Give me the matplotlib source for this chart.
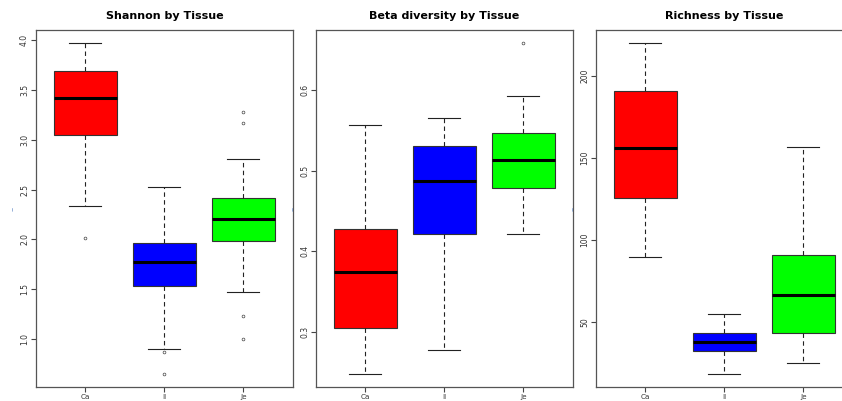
import matplotlib
matplotlib.use("Agg")
import matplotlib.pyplot as plt

tissues = ["Ca", "Il", "Je"]
colors = ["#ff0000", "#0000ff", "#00ff00"]

# whisker low, Q1, median, Q3, whisker high, outliers
shannon_lo = [2.34, 0.90, 1.47]
shannon_q1 = [3.05, 1.53, 1.98]
shannon_med = [3.42, 1.77, 2.20]
shannon_q3 = [3.69, 1.96, 2.42]
shannon_hi = [3.97, 2.53, 2.81]
shannon_out = [[2.01], [0.875, 0.655], [3.28, 3.17, 1.23, 1.00]]

beta_lo = [0.248, 0.278, 0.421]
beta_q1 = [0.305, 0.421, 0.478]
beta_med = [0.375, 0.487, 0.513]
beta_q3 = [0.428, 0.530, 0.547]
beta_hi = [0.556, 0.565, 0.592]
beta_out = [[], [], [0.658]]

rich_lo = [89.6, 18.7, 25.0]
rich_q1 = [125.8, 32.7, 43.7]
rich_med = [156.2, 37.8, 66.3]
rich_q3 = [190.7, 43.7, 91.0]
rich_hi = [219.7, 54.9, 156.6]
rich_out = [[], [], []]

panels = [
    ("Shannon by Tissue", shannon_lo, shannon_q1, shannon_med, shannon_q3, shannon_hi, shannon_out,
     (0.52, 4.10), [1.0, 1.5, 2.0, 2.5, 3.0, 3.5, 4.0], "{:.1f}"),
    ("Beta diversity by Tissue", beta_lo, beta_q1, beta_med, beta_q3, beta_hi, beta_out,
     (0.232, 0.674), [0.3, 0.4, 0.5, 0.6], "{:.1f}"),
    ("Richness by Tissue", rich_lo, rich_q1, rich_med, rich_q3, rich_hi, rich_out,
     (10.6, 227.8), [50, 100, 150, 200], "{:d}"),
]

fig = plt.figure(figsize=(8.42, 4.01), dpi=100)
lefts = [36, 316, 596]
for left, (title, lo, q1, med, q3, hi, out, ylim, yt, fmt) in zip(lefts, panels):
    ax = fig.add_axes([left / 842, 14 / 401, 257 / 842, 357 / 401])
    stats = []
    for i in range(3):
        stats.append(dict(whislo=lo[i], q1=q1[i], med=med[i], q3=q3[i],
                          whishi=hi[i], fliers=out[i], label=tissues[i]))
    bp = ax.bxp(stats, positions=[1, 2, 3], widths=0.8, patch_artist=True,
                boxprops=dict(edgecolor="#333333", linewidth=0.8),
                medianprops=dict(color="black", linewidth=2.2),
                whiskerprops=dict(color="#222222", linewidth=0.8, linestyle=(0, (4, 3))),
                capprops=dict(color="#222222", linewidth=0.8),
                flierprops=dict(marker="o", markersize=2, markerfacecolor="none",
                                markeredgecolor="#444444", markeredgewidth=0.5))
    for cap in bp["caps"]:
        x = cap.get_xdata()
        c = (x[0] + x[1]) / 2
        cap.set_xdata([c - 0.2, c + 0.2])
    for patch, col in zip(bp["boxes"], colors):
        patch.set_facecolor(col)
    ax.set_xlim(0.376, 3.63)
    ax.set_ylim(*ylim)
    ax.set_yticks(yt)
    ax.set_yticklabels([fmt.format(v) for v in yt], rotation=90, va="center",
                       fontsize=5.5, color="#333333")
    ax.set_xticks([1, 2, 3])
    ax.set_xticklabels(tissues, fontsize=5.2, color="#333333")
    ax.tick_params(length=3.5, width=0.8, color="#444444", pad=1.5)
    for s in ax.spines.values():
        s.set_color("#555555")
        s.set_linewidth(0.9)
    ax.set_title(title, fontsize=8, fontweight="bold", pad=8)
    ax.set_ylabel("–", fontsize=6, color="#7799cc", labelpad=2)

fig.savefig("out.png", dpi=100)
